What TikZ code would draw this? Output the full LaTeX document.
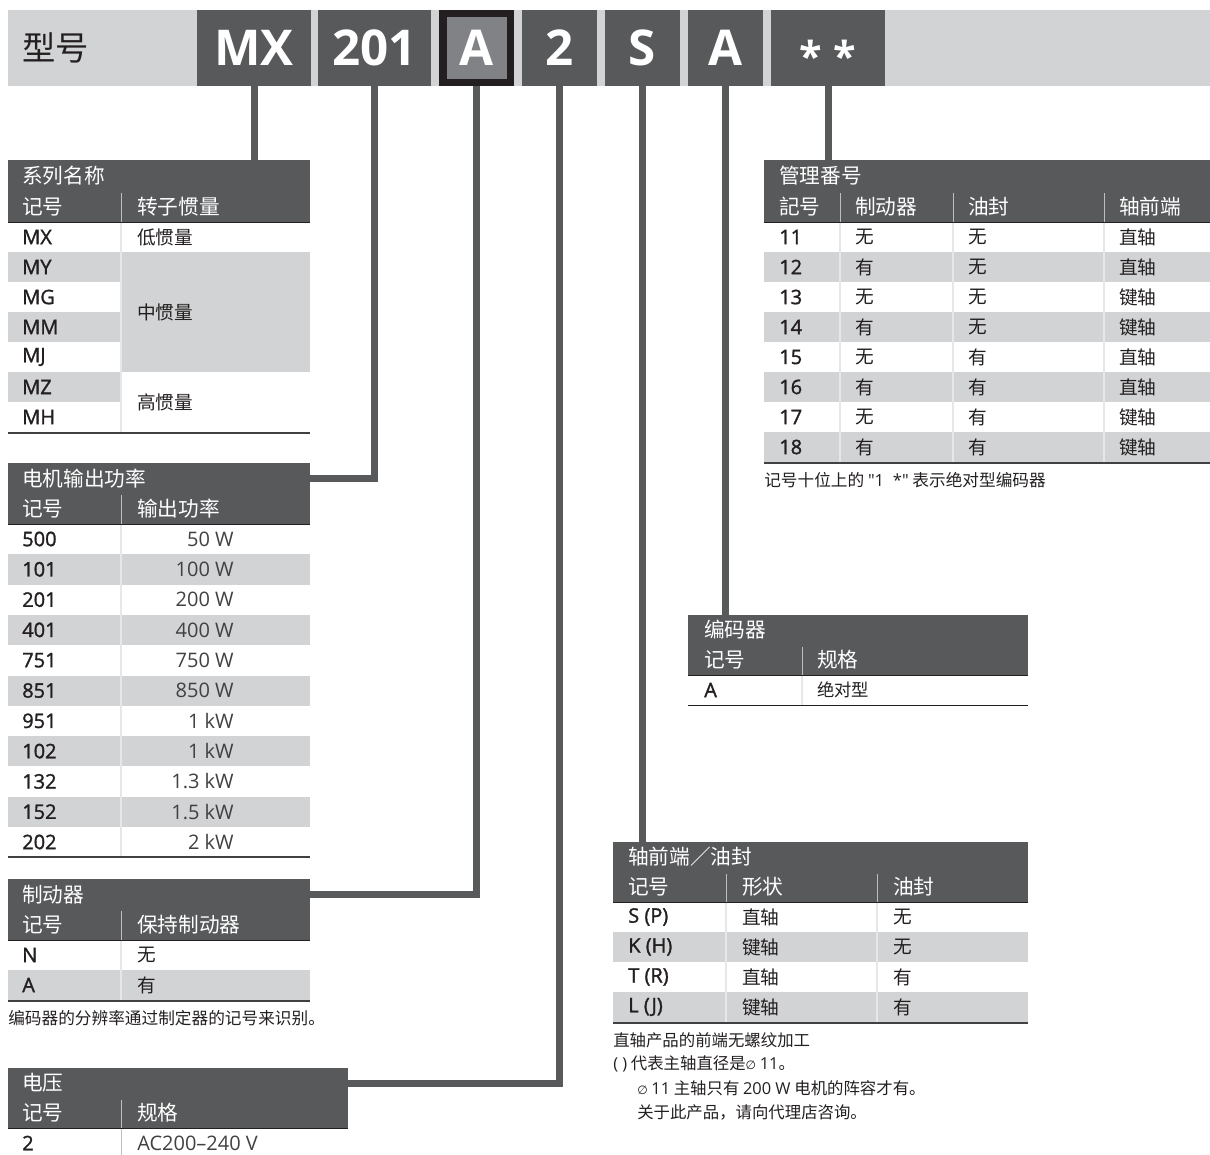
\documentclass[tikz,border=0pt]{standalone}
\usepackage{fontspec}
\setmainfont{Open Sans}
\newfontfamily\cjk{Noto Sans CJK SC}
\newfontfamily\semib{Open Sans}[FakeBold=1.4]
\newfontfamily\lat{Open Sans}
\newfontfamily\dvs{DejaVu Sans}
\definecolor{dark}{HTML}{58595B}
\definecolor{bandgray}{HTML}{D1D3D4}
\definecolor{rowshade}{HTML}{D1D3D4}
\definecolor{agray}{HTML}{808285}
\definecolor{ink}{HTML}{231F20}
\definecolor{valgray}{HTML}{414042}
\definecolor{hdiv}{HTML}{BCBEC0}
\definecolor{ddiv}{HTML}{E6E7E8}
\tikzset{
  tbar/.style 2 args={fill=dark, draw=none, inner sep=0pt, outer sep=0pt, anchor=north west,
    minimum width=#1*0.75pt, minimum height=#2*0.75pt},
  hbox/.style={fill=dark, inner sep=0pt, outer sep=0pt, minimum width=#1*0.75pt,
    minimum height=57pt, text=white, font=\bfseries\fontsize{37}{40}\selectfont},
  ttl/.style={font=\cjk\fontsize{15.5}{17}\selectfont, text=white, anchor=west, inner sep=0pt},
  cell/.style={font=\cjk\fontsize{14}{16}\selectfont, text=ink, anchor=west, inner sep=0pt},
  code/.style={font=\semib\fontsize{15}{16}\selectfont, text=ink, anchor=west, inner sep=0pt},
  val/.style={font=\fontsize{15}{16}\selectfont, text=valgray, anchor=east, inner sep=0pt},
  note/.style={font=\cjk\fontsize{12.5}{14}\selectfont, text=ink, anchor=west, inner sep=0pt},
  snote/.style={font=\cjk\fontsize{12.3}{14}\selectfont, text=ink, anchor=west, inner sep=0pt},
  conn/.style={draw=dark, line width=5.25pt},
  hline/.style={draw=hdiv, line width=0.75pt},
  dline/.style={draw=ddiv, line width=0.9pt},
  hbot/.style={draw=ink, line width=0.6pt},
  tbot/.style={draw=valgray, line width=1.1pt},
}
\newcommand\dia{{\dvs\fontsize{9}{10}\selectfont ∅}}
\newcommand\la[1]{{\lat #1}}
\begin{document}
\begin{tikzpicture}[x=0.75pt,y=-0.75pt]
\useasboundingbox (0,0) rectangle (1210,1155);

% ---------- header band ----------
\fill[bandgray] (8,10) rectangle (1210,86);
\node[font=\cjk\fontsize{25}{28}\selectfont, text=ink, anchor=west, inner sep=0pt] (xh) at (22,48) {型号};
\node[hbox=114] (bmx) at (254,48) {MX};
\node[hbox=113] (b201) at (374.5,48) {201};
\node[fill=agray, draw=ink, line width=5.6pt, inner sep=0pt, outer sep=2.8pt,
      minimum width=50.6pt, minimum height=51.4pt, text=white,
      font=\bfseries\fontsize{37}{40}\selectfont] (bA) at (476.5,48) {A};
\node[hbox=75] (b2) at (559.5,48) {2};
\node[hbox=75] (bS) at (642.5,48) {S};
\node[hbox=75] (bE) at (725.5,48) {A};
\node[hbox=114] (bst) at (828,48) {};
\node[anchor=base, inner sep=0pt, text=white, font=\bfseries\fontsize{31}{34}\selectfont] (bstt) at (828,72) {*\hspace{9pt}*};

% ---------- table 1: 系列名称 ----------
\node[tbar={302}{31}] (t1) at (8,160) {};
\fill[dark] (8,190.5) rectangle (310,222);
\draw[hbot] (8,222) -- (310,222);
\draw[hline] (121,193) -- (121,222);
\node[ttl] (t1a) at (22,176) {系列名称};
\node[ttl] (t1b) at (22,207) {记号};
\node[ttl] (t1c) at (137,207) {转子惯量};
\foreach \k in {1,3,5} \fill[rowshade] (8,{222+30*\k}) rectangle (121,{252+30*\k});
\fill[rowshade] (121,252) rectangle (310,372);
\draw[dline] (121,223) -- (121,432);
\foreach \c [count=\k from 0] in {MX,MY,MG,MM,MJ,MZ,MH}
  \node[code] (t1r\k) at (22,{237+30*\k}) {\c};
\node[cell] (t1lo) at (137,237) {低惯量};
\node[cell] (t1mid) at (137,312) {中惯量};
\node[cell] (t1hi) at (137,402) {高惯量};
\draw[tbot] (8,433) -- (310,433);

% ---------- table 2: 电机输出功率 ----------
\node[tbar={302}{31}] (t2) at (8,463) {};
\fill[dark] (8,493.5) rectangle (310,524);
\draw[hbot] (8,524) -- (310,524);
\draw[hline] (121,495) -- (121,524);
\node[ttl] (t2a) at (22,479) {电机输出功率};
\node[ttl] (t2b) at (22,509) {记号};
\node[ttl] (t2c) at (137,509) {输出功率};
\foreach \k in {1,3,5,7,9} \fill[rowshade] (8,{524+30.3*\k}) rectangle (310,{554.3+30.3*\k});
\draw[dline] (121,525) -- (121,856);
\foreach \c/\v [count=\k from 0] in {500/50 W,101/100 W,201/200 W,401/400 W,751/750 W,851/850 W,951/1 kW,102/1 kW,132/1.3 kW,152/1.5 kW,202/2 kW}{
  \node[code] (t2r\k) at (22,{539+30.3*\k}) {\c};
  \node[val] (t2v\k) at (234,{539+30.3*\k}) {\v};
}
\draw[tbot] (8,857) -- (310,857);

% ---------- table 3: 制动器 ----------
\node[tbar={302}{31}] (t3) at (8,879) {};
\fill[dark] (8,909.5) rectangle (310,940);
\draw[hbot] (8,940) -- (310,940);
\draw[hline] (121,911) -- (121,940);
\node[ttl] (t3a) at (22,894.5) {制动器};
\node[ttl] (t3b) at (22,925) {记号};
\node[ttl] (t3c) at (137,925) {保持制动器};
\fill[rowshade] (8,970) rectangle (310,1000);
\draw[dline] (121,941) -- (121,1000);
\node[code] (t3r0) at (22,955) {N};
\node[cell] (t3v0) at (137,955) {无};
\node[code] (t3r1) at (22,985) {A};
\node[cell] (t3v1) at (137,985) {有};
\draw[tbot] (8,1001) -- (310,1001);
\node[note] (t3n) at (8,1018) {编码器的分辨率通过制定器的记号来识别。};

% ---------- table 4: 电压 ----------
\node[tbar={340}{30}] (t4) at (8,1068) {};
\fill[dark] (8,1097.5) rectangle (348,1128);
\draw[hbot] (8,1128) -- (348,1128);
\draw[hline] (121,1100) -- (121,1128);
\node[ttl] (t4a) at (22,1083) {电压};
\node[ttl] (t4b) at (22,1113) {记号};
\node[ttl] (t4c) at (137,1113) {规格};
\draw[hline] (121,1129) -- (121,1155);
\node[code] (t4r0) at (22,1143) {2};
\node[val, anchor=west] (t4v0) at (137,1143) {AC200–240 V};

% ---------- table 5: 管理番号 ----------
\node[tbar={446}{31}] (t5) at (764,160) {};
\fill[dark] (764,190.5) rectangle (1210,222);
\draw[hbot] (764,222) -- (1210,222);
\foreach \x in {840,953,1104} \draw[hline] (\x,193) -- (\x,222);
\node[ttl] (t5a) at (779,176) {管理番号};
\node[ttl] (t5b) at (779,207) {記号};
\node[ttl] (t5c) at (855,207) {制动器};
\node[ttl] (t5d) at (968,207) {油封};
\node[ttl] (t5e) at (1119,207) {轴前端};
\foreach \k in {1,3,5,7} \fill[rowshade] (764,{222+30*\k}) rectangle (1210,{252+30*\k});
\foreach \x in {840,953,1104} \draw[dline] (\x,223) -- (\x,462);
\foreach \c/\b/\o/\s [count=\k from 0] in {11/无/无/直轴,12/有/无/直轴,13/无/无/键轴,14/有/无/键轴,15/无/有/直轴,16/有/有/直轴,17/无/有/键轴,18/有/有/键轴}{
  \node[code] (t5r\k) at (779,{237+30*\k}) {\c};
  \node[cell] (t5b\k) at (855,{237+30*\k}) {\b};
  \node[cell] (t5o\k) at (968,{237+30*\k}) {\o};
  \node[cell] (t5s\k) at (1119,{237+30*\k}) {\s};
}
\draw[tbot] (764,463) -- (1210,463);
\node[note] (t5n) at (764,480) {记号十位上的 \la{"1\ \ *"} 表示绝对型编码器};

% ---------- table 6: 编码器 ----------
\node[tbar={340}{30}] (t6) at (688,615) {};
\fill[dark] (688,644.5) rectangle (1028,675);
\draw[hbot] (688,675) -- (1028,675);
\draw[hline] (802,647) -- (802,675);
\node[ttl] (t6a) at (704,630) {编码器};
\node[ttl] (t6b) at (704,660) {记号};
\node[ttl] (t6c) at (817,660) {规格};
\draw[dline] (802,676) -- (802,705);
\node[code] (t6r0) at (704,690) {A};
\node[cell, font=\cjk\fontsize{13}{15}\selectfont] (t6v0) at (817,690) {绝对型};
\draw[draw=ink, line width=1pt] (688,705.5) -- (1028,705.5);

% ---------- table 7: 轴前端／油封 ----------
\node[tbar={415}{30}] (t7) at (613,842) {};
\fill[dark] (613,871.5) rectangle (1028,902);
\draw[hbot] (613,902) -- (1028,902);
\foreach \x in {726,877} \draw[hline] (\x,874) -- (\x,902);
\node[ttl] (t7a) at (628,857) {轴前端／油封};
\node[ttl] (t7b) at (628,887) {记号};
\node[ttl] (t7c) at (742,887) {形状};
\node[ttl] (t7d) at (893,887) {油封};
\foreach \k in {1,3} \fill[rowshade] (613,{902+30*\k}) rectangle (1028,{932+30*\k});
\foreach \x in {726,877} \draw[dline] (\x,903) -- (\x,1022);
\foreach \c/\f/\o [count=\k from 0] in {S (P)/直轴/无,K (H)/键轴/无,T (R)/直轴/有,L (J)/键轴/有}{
  \node[code] (t7r\k) at (628,{917+30*\k}) {\c};
  \node[cell] (t7f\k) at (742,{917+30*\k}) {\f};
  \node[cell] (t7o\k) at (893,{917+30*\k}) {\o};
}
\draw[tbot] (613,1023) -- (1028,1023);
\node[snote] (t7n1) at (613,1040) {直轴产品的前端无螺纹加工};
\node[snote] (t7n2) at (613,1064) {\la{( )} 代表主轴直径是\dia\ \la{11}。};
\node[snote] (t7n3) at (637,1088) {\dia\ \la{11} 主轴只有 \la{200 W} 电机的阵容才有。};
\node[snote] (t7n4) at (637,1112) {关于此产品，请向代理店咨询。};

% ---------- connectors ----------
\draw[conn] (bmx.south) -- (bmx.south |- t1.north);
\draw[conn] (b201.south) |- (t2.east);
\draw[conn] (bA.south) |- (t3.east);
\draw[conn] (b2.south) |- (t4.east);
\draw[conn] (bS.south) -- (bS.south |- t7.north);
\draw[conn] (bE.south) -- (bE.south |- t6.north);
\draw[conn] (bst.south) -- (bst.south |- t5.north);
\end{tikzpicture}
\end{document}
